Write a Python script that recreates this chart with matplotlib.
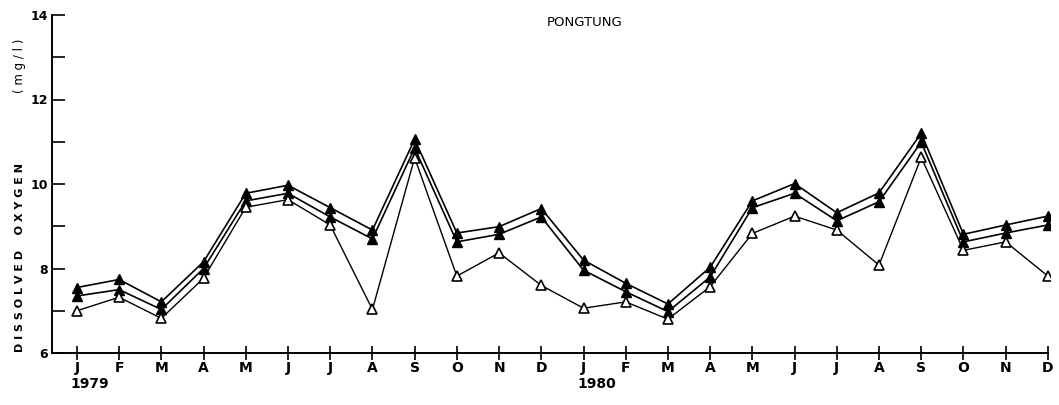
import matplotlib
matplotlib.use("Agg")
import matplotlib.pyplot as plt
from matplotlib.ticker import MultipleLocator

# monthly dissolved oxygen, Jan 1979 .. Dec 1980
months = ["J", "F", "M", "A", "M", "J", "J", "A", "S", "O", "N", "D"] * 2
years = ["1979", "1980"]

do_top = [7.55, 7.74, 7.21, 8.16, 9.78, 9.97, 9.44, 8.91, 11.06, 8.84, 8.99, 9.42,
          8.20, 7.65, 7.16, 8.03, 9.60, 10.01, 9.32, 9.79, 11.20, 8.81, 9.03, 9.24]
do_mid = [7.35, 7.50, 7.03, 8.00, 9.60, 9.78, 9.22, 8.70, 10.85, 8.63, 8.81, 9.22,
          7.96, 7.45, 6.98, 7.80, 9.44, 9.78, 9.13, 9.58, 10.99, 8.63, 8.84, 9.03]
do_low = [7.00, 7.32, 6.82, 7.77, 9.45, 9.63, 9.03, 7.03, 10.62, 7.82, 8.37, 7.60,
          7.06, 7.21, 6.80, 7.57, 8.83, 9.24, 8.91, 8.08, 10.63, 8.43, 8.63, 7.82]

x = list(range(len(months)))

fig = plt.figure(figsize=(10.59, 4.05), dpi=100)
ax = fig.add_axes([52 / 1059, 52 / 405, 998 / 1059, 338 / 405])

ax.plot(x, do_top, color="black", lw=1.2, marker="^", ms=7.5,
        mfc="black", mec="black", zorder=3)
ax.plot(x, do_mid, color="black", lw=1.2, marker="^", ms=7.5,
        mfc="black", mec="black", zorder=3)
ax.plot(x, do_low, color="black", lw=1.0, marker="^", ms=7.5,
        mfc="white", mec="black", mew=1.2, zorder=3)

ax.set_xlim(-0.59, 23.05)
ax.set_ylim(6, 14)
ax.spines["top"].set_visible(False)
ax.spines["right"].set_visible(False)
ax.spines["bottom"].set_bounds(-0.59, 23)
for s in ("left", "bottom"):
    ax.spines[s].set_linewidth(1.4)

ax.set_xticks(x)
ax.set_xticklabels(months, fontsize=10, fontweight="bold")
ax.tick_params(axis="x", direction="inout", length=10, width=1.2, pad=1)

ax.yaxis.set_major_locator(MultipleLocator(2))
ax.yaxis.set_minor_locator(MultipleLocator(1))
ax.tick_params(axis="y", which="both", direction="in", length=9, width=1.2)
ax.tick_params(axis="y", which="major", labelsize=9, pad=3)
for lab in ax.get_yticklabels():
    lab.set_fontweight("bold")

fig.text(585 / 1059, 1 - 22 / 405, "PONGTUNG", ha="center", va="center", fontsize=9.5)

for i, yr in enumerate(years):
    ax.text(i * 12 - 0.15, -0.07, yr, transform=ax.get_xaxis_transform(),
            ha="left", va="top", fontsize=10, fontweight="bold")

fig.text(20 / 1059, 1 - 258 / 405, "D I S S O L V E D    O X Y G E N", rotation=90,
         ha="center", va="center", fontsize=8, fontweight="bold")
fig.text(20 / 1059, 1 - 66 / 405, "( m g / l )", rotation=90,
         ha="center", va="center", fontsize=8.5)

fig.savefig("out.png", dpi=100, facecolor="white")
